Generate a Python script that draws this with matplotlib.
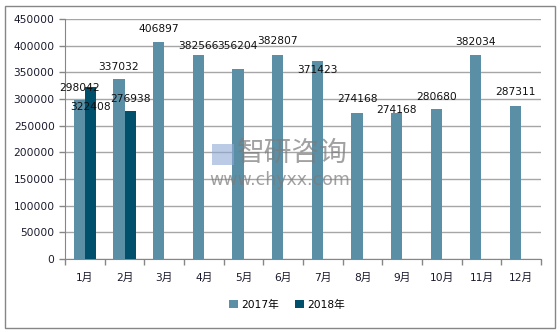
import matplotlib
matplotlib.use("Agg")
import matplotlib.pyplot as plt
import numpy as np
from matplotlib.patches import Rectangle

plt.rcParams['font.family'] = ['DejaVu Sans', 'Noto Sans CJK SC']

# data
months = ['1月', '2月', '3月', '4月', '5月', '6月', '7月', '8月', '9月', '10月', '11月', '12月']
v2017 = [298042, 337032, 406897, 382566, 356204, 382807, 371423, 274168, 274168, 280680, 382034, 287311]
v2018 = [322408, 276938]
yticks = [0, 50000, 100000, 150000, 200000, 250000, 300000, 350000, 400000, 450000]

# label offsets (pixels, up) to mimic where the labels sit
off2017 = [12, 12, 13, 9, 23, 14, -9, 14, 3, 12, 13, 14]
off2018 = [-20, 12]

c2017 = '#5B8FA6'
c2018 = '#004F6B'

fig = plt.figure(figsize=(5.6, 3.32), dpi=100)
ax = fig.add_axes([65/560, 1-259/332, 476/560, 240/332])

x = np.arange(len(months))
w = 0.28
ax.bar(x - w/2, v2017, w, color=c2017, label='2017年', zorder=3)
ax.bar(x[:len(v2018)] + w/2, v2018, w, color=c2018, label='2018年', zorder=3)

for i, v in enumerate(v2017):
    ax.annotate(str(v), (x[i] - w/2, v), xytext=(0, off2017[i]), textcoords='offset pixels',
                ha='center', va='center', fontsize=7.7, color='#111111', zorder=5)
for i, v in enumerate(v2018):
    ax.annotate(str(v), (x[i] + w/2, v), xytext=(0, off2018[i]), textcoords='offset pixels',
                ha='center', va='center', fontsize=7.7, color='#111111', zorder=5)

ax.set_xlim(-0.5, len(months) - 0.5)
ax.set_ylim(0, 450000)
ax.set_yticks(yticks)
ax.set_yticklabels([str(t) for t in yticks], fontsize=7.7, color='#1a1a2e')
ax.yaxis.grid(True, color='#a6a6a6', linewidth=1, zorder=0)
ax.set_xticks(x)
ax.set_xticklabels(months, fontsize=7.7, color='#1a1a2e')
ax.tick_params(axis='x', length=0, pad=10)
ax.tick_params(axis='y', length=4, color='#868686', width=1)
ax.set_xticks(np.arange(-0.5, len(months)), minor=True)
ax.tick_params(axis='x', which='minor', length=4, color='#868686', width=1)
for s in ['top', 'right']:
    ax.spines[s].set_visible(False)
ax.spines['left'].set_color('#868686')
ax.spines['bottom'].set_color('#868686')

# watermark
fig.text(237/560, 1-153/332, '智研咨询', fontsize=20, color='#7a7a7a', alpha=0.7,
         family=['Noto Sans CJK SC'], va='center', ha='left')
fig.text(209/560, 1-180/332, 'www.chyxx.com', fontsize=12.5, color='#7a7a7a', alpha=0.7,
         va='center', ha='left')
fig.patches.append(Rectangle((212/560, 1-165/332), 22/560, 21/332, transform=fig.transFigure,
                             facecolor='#8fa9d4', alpha=0.6, edgecolor='none'))

fig.legend(loc='center', bbox_to_anchor=(287/560, 1-305/332), ncol=2, frameon=False,
           fontsize=7.7, handlelength=0.8, handleheight=0.8, columnspacing=1.5, handletextpad=0.3)

fig.patches.append(Rectangle((4.5/560, 4.5/332), 550/560, 322/332, transform=fig.transFigure,
                             facecolor='none', edgecolor='#868686', linewidth=1))

fig.savefig('out.png', dpi=100)
